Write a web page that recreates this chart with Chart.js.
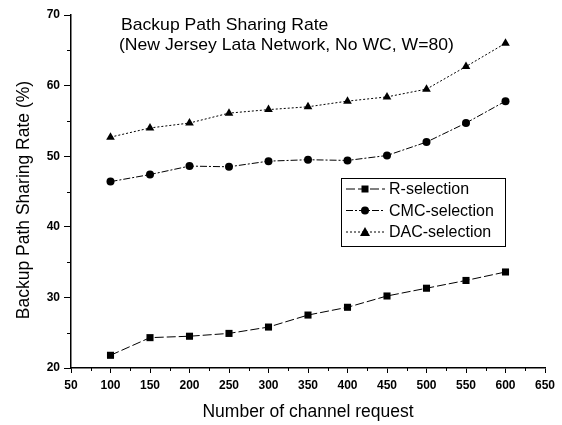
<!DOCTYPE html>
<html>
<head>
<meta charset="utf-8">
<script src="https://cdn.jsdelivr.net/npm/chart.js@4"></script>
<style>
  html, body { margin: 0; padding: 0; background: #fff; }
  #wrap { width: 562px; height: 425px; }
</style>
</head>
<body>
<div id="wrap"><canvas id="myChart" width="562" height="425"></canvas></div>
<script>
const requests = [100, 150, 200, 250, 300, 350, 400, 450, 500, 550, 600];
const rSelection = [21.8, 24.3, 24.5, 24.9, 25.8, 27.5, 28.6, 30.2, 31.3, 32.4, 33.6];
const cmcSelection = [46.4, 47.4, 48.6, 48.5, 49.3, 49.5, 49.4, 50.1, 52.0, 54.7, 57.8];
const dacSelection = [52.7, 54.0, 54.7, 56.1, 56.6, 57.0, 57.8, 58.4, 59.5, 62.7, 66.0];
const titleLines = ['Backup Path Sharing Rate', '(New Jersey Lata Network, No WC, W=80)'];
const xTitle = 'Number of channel request';
const yTitle = 'Backup Path Sharing Rate (%)';

const FONT = '"Liberation Sans", Arial, sans-serif';

function pts(values) {
    return requests.map((x, i) => ({ x: x, y: values[i] }));
}

const series = [
    { label: 'R-selection', data: rSelection, style: 'rect', radius: 5, dash: [9, 3] },
    { label: 'CMC-selection', data: cmcSelection, style: 'circle', radius: 4, dash: [7, 2, 2, 2] },
    { label: 'DAC-selection', data: dacSelection, style: 'triangle', radius: 5, dash: [2, 2] }
];

// text drawn with a slight horizontal stretch, like the scanned original
function stretchText(ctx, text, x, y, sx) {
    ctx.save();
    ctx.translate(x, y);
    ctx.scale(sx, 1);
    ctx.fillText(text, 0, 0);
    ctx.restore();
}

// minor ticks, axis titles, inner title and legend
const decorations = {
    id: 'decorations',
    afterDraw(chart) {
        const ctx = chart.ctx;
        const x = chart.scales.x, y = chart.scales.y;
        const area = chart.chartArea;
        ctx.save();
        ctx.strokeStyle = '#000';
        ctx.lineWidth = 1;
        ctx.beginPath();
        for (let v = 75; v < 650; v += 50) {
            const px = Math.round(x.getPixelForValue(v)) + 0.5;
            ctx.moveTo(px, area.bottom);
            ctx.lineTo(px, area.bottom + 3);
        }
        for (let v = 25; v < 70; v += 10) {
            const py = Math.round(y.getPixelForValue(v)) + 0.5;
            ctx.moveTo(area.left, py);
            ctx.lineTo(area.left - 4, py);
        }
        ctx.stroke();

        ctx.fillStyle = '#000';
        ctx.font = '17px ' + FONT;
        ctx.textAlign = 'left';
        ctx.textBaseline = 'middle';
        stretchText(ctx, titleLines[0], 121, 25, 1.035);
        stretchText(ctx, titleLines[1], 119, 45, 1.035);

        ctx.font = '17.5px ' + FONT;
        ctx.textAlign = 'center';
        ctx.fillText(xTitle, (area.left + area.right) / 2, 412);
        ctx.save();
        ctx.translate(24, 200);
        ctx.rotate(-Math.PI / 2);
        ctx.fillText(yTitle, 0, 0);
        ctx.restore();

        // legend box
        const lx = 341, ly = 178, lw = 164, lh = 68;
        ctx.lineWidth = 1;
        ctx.strokeRect(lx + 0.5, ly + 0.5, lw, lh);
        ctx.font = '16px ' + FONT;
        ctx.textAlign = 'left';
        series.forEach((s, i) => {
            const cy = 189 + i * 21.5;
            ctx.setLineDash(s.dash);
            ctx.beginPath();
            ctx.moveTo(lx + 5, cy);
            ctx.lineTo(lx + 44, cy);
            ctx.stroke();
            ctx.setLineDash([]);
            const mx = lx + 24;
            ctx.beginPath();
            if (s.style === 'rect') {
                ctx.rect(mx - 3.5, cy - 3.5, 7, 7);
            } else if (s.style === 'circle') {
                ctx.arc(mx, cy, 4, 0, Math.PI * 2);
            } else {
                ctx.moveTo(mx, cy - 5);
                ctx.lineTo(mx + 5, cy + 4);
                ctx.lineTo(mx - 5, cy + 4);
                ctx.closePath();
            }
            ctx.fill();
            ctx.fillText(s.label, 389, cy + 1);
        });
        ctx.restore();
    }
};

const data = {
    datasets: series.map(s => ({
        label: s.label,
        data: pts(s.data),
        borderColor: '#000',
        backgroundColor: '#000',
        borderWidth: 1,
        borderDash: s.dash,
        pointStyle: s.style,
        pointRadius: s.radius,
        pointBorderWidth: 0,
        pointBackgroundColor: '#000',
        tension: 0
    }))
};

const config = {
    type: 'line',
    data,
    options: {
        responsive: false,
        animation: false,
        layout: { padding: { top: 15, right: 17, left: 0, bottom: 0 } },
        plugins: {
            legend: { display: false },
            tooltip: { enabled: false }
        },
        scales: {
            x: {
                type: 'linear',
                min: 50,
                max: 650,
                afterFit(scale) { scale.height = 57; },
                ticks: {
                    stepSize: 50,
                    color: '#000',
                    font: { family: FONT, size: 12, weight: 'bold' },
                    padding: 5,
                    maxRotation: 0
                },
                grid: {
                    display: true,
                    drawOnChartArea: false,
                    drawTicks: true,
                    tickLength: 5,
                    color: '#000'
                },
                border: { display: true, color: '#000', width: 1.5 }
            },
            y: {
                min: 20,
                max: 70,
                afterFit(scale) { scale.width = 71; },
                ticks: {
                    stepSize: 10,
                    color: '#000',
                    font: { family: FONT, size: 12, weight: 'bold' },
                    padding: 4
                },
                grid: {
                    display: true,
                    drawOnChartArea: false,
                    drawTicks: true,
                    tickLength: 7,
                    color: '#000'
                },
                border: { display: true, color: '#000', width: 1.5 }
            }
        }
    },
    plugins: [decorations]
};

var myChart = new Chart(document.getElementById('myChart'), config);
</script>
</body>
</html>
